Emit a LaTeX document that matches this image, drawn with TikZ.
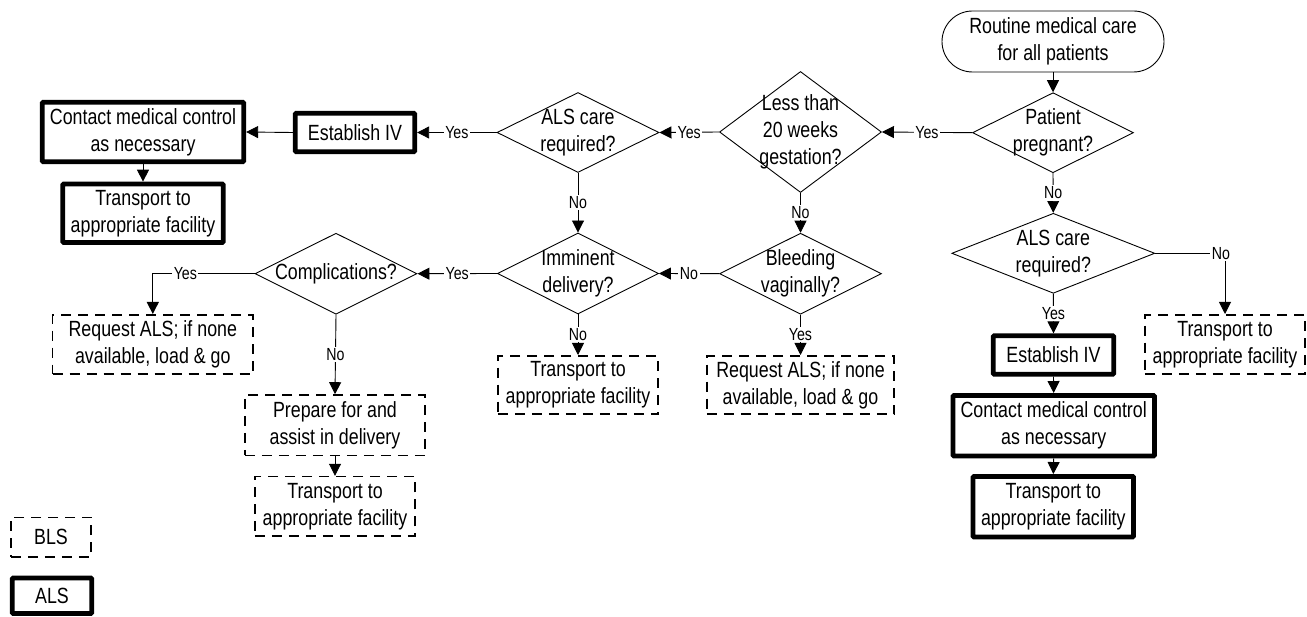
\documentclass[tikz,border=0pt]{standalone}
\usepackage{fontspec}
\setmainfont{Liberation Sans}[FakeStretch=0.81]
\usetikzlibrary{arrows.meta,shapes.geometric,shapes.misc}
\begin{document}
\begin{tikzpicture}[x=1pt,y=-1pt,
  every node/.style={font=\fontsize{22}{27}\selectfont, align=center, inner sep=0pt},
  alsbox/.style={draw, line width=4.8pt, rectangle, rounded corners=1pt},
  blsbox/.style={draw, line width=1.6pt, dash pattern=on 10pt off 7pt, rectangle},
  dec/.style={draw, diamond, line width=0.9pt, inner sep=0pt},
  lbl/.style={font=\fontsize{17.5}{19}\selectfont, fill=white, inner sep=1.5pt},
  conn/.style={line width=0.9pt, -{Triangle[length=12pt,width=12pt]}}
]
\useasboundingbox (0,0) rectangle (1307,617);

% start
\node[draw, rounded rectangle, line width=0.9pt, minimum width=222pt, minimum height=61pt] (start) at (1053,41.5) {Routine medical care\\for all patients};

% decisions
\node[dec, minimum width=161pt, minimum height=80pt, label={[align=center]center:{Patient\\pregnant?}}] (preg) at (1053,132.7) {};
\node[dec, minimum width=162pt, minimum height=121pt, label={[align=center]center:{Less than\\20 weeks\\gestation?}}] (less) at (800.5,132) {};
\node[dec, minimum width=162pt, minimum height=80pt, label={[align=center]center:{ALS care\\required?}}] (alsa) at (578,132.5) {};
\node[dec, minimum width=161pt, minimum height=81pt, label={[align=center]center:{Imminent\\delivery?}}] (imm) at (578,273.5) {};
\node[dec, minimum width=162pt, minimum height=81pt, label={[align=center]center:{Bleeding\\vaginally?}}] (bleed) at (800.5,273.7) {};
\node[dec, minimum width=162pt, minimum height=81pt, label={[align=center]center:{Complications?}}] (comp) at (336,273.7) {};
\node[dec, minimum width=203pt, minimum height=80pt, label={[align=center]center:{ALS care\\required?}}] (alsb) at (1053.3,253.3) {};

% ALS boxes
\node[alsbox, minimum width=119.5pt, minimum height=38.5pt] (esta) at (355,132.5) {Establish IV};
\node[alsbox, minimum width=201.5pt, minimum height=59.5pt] (conta) at (143,132) {Contact medical control\\as necessary};
\node[alsbox, minimum width=160.5pt, minimum height=58.5pt] (transa) at (143,213.3) {Transport to\\appropriate facility};
\node[alsbox, minimum width=120.5pt, minimum height=38.5pt] (estb) at (1053.5,355) {Establish IV};
\node[alsbox, minimum width=201.5pt, minimum height=60.5pt] (contb) at (1053.7,425.7) {Contact medical control\\as necessary};
\node[alsbox, minimum width=160.5pt, minimum height=60.5pt] (transb) at (1053.3,506.7) {Transport to\\appropriate facility};

% BLS boxes
\node[blsbox, minimum width=200.4pt, minimum height=59.4pt] (reqa) at (152.8,344.5) {Request ALS; if none\\available, load \& go};
\node[blsbox, minimum width=180.4pt, minimum height=60.4pt] (prep) at (335,425.2) {Prepare for and\\assist in delivery};
\node[blsbox, minimum width=160.4pt, minimum height=59.4pt] (transc) at (335,506.3) {Transport to\\appropriate facility};
\node[blsbox, minimum width=160.4pt, minimum height=58.4pt] (transd) at (578,385) {Transport to\\appropriate facility};
\node[blsbox, minimum width=187.4pt, minimum height=58.4pt] (reqb) at (800.5,385) {Request ALS; if none\\available, load \& go};
\node[blsbox, minimum width=160.4pt, minimum height=59.4pt] (transe) at (1225,344.5) {Transport to\\appropriate facility};

% legend
\node[blsbox, minimum width=80.4pt, minimum height=39.4pt] (legbls) at (51,537) {BLS};
\node[alsbox, minimum width=79.5pt, minimum height=35.5pt] (legals) at (52,595.7) {ALS};

% connectors
\draw[conn] (start.south) -- (preg.north);
\draw[conn] (preg.west) -- node[lbl]{Yes} (less.east);
\draw[conn] (less.west) -- node[lbl]{Yes} (alsa.east);
\draw[conn] (alsa.west) -- node[lbl]{Yes} (esta.east);
\draw[conn] (esta.west) -- (conta.east);
\draw[conn] (conta.south) -- (transa.north);
\draw[conn] (alsa.south) -- node[lbl]{No} (imm.north);
\draw[conn] (less.south) -- node[lbl]{No} (bleed.north);
\draw[conn] (bleed.west) -- node[lbl]{No} (imm.east);
\draw[conn] (imm.west) -- node[lbl]{Yes} (comp.east);
\draw[conn] (comp.west) -| node[lbl, pos=0.34]{Yes} (reqa.north);
\draw[conn] (comp.south) -- node[lbl]{No} (prep.north);
\draw[conn] (prep.south) -- (transc.north);
\draw[conn] (imm.south) -- node[lbl]{No} (transd.north);
\draw[conn] (bleed.south) -- node[lbl]{Yes} (reqb.north);
\draw[conn] (preg.south) -- node[lbl]{No} (alsb.north);
\draw[conn] (alsb.east) -| node[lbl, pos=0.5, xshift=-4pt]{No} (transe.north);
\draw[conn] (alsb.south) -- node[lbl]{Yes} (estb.north);
\draw[conn] (estb.south) -- (contb.north);
\draw[conn] (contb.south) -- (transb.north);
\end{tikzpicture}
\end{document}
